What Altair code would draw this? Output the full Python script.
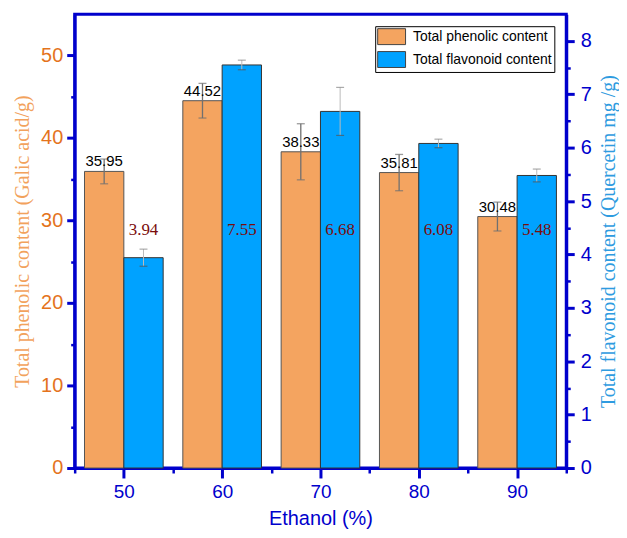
import altair as alt
import pandas as pd

# ---- data ----
ethanol = [50, 60, 70, 80, 90]
phenolic = [35.95, 44.52, 38.33, 35.81, 30.48]
phenolic_err = [1.5, 2.1, 3.4, 2.2, 1.75]
flavonoid = [3.94, 7.55, 6.68, 6.08, 5.48]
flavonoid_err = [0.16, 0.09, 0.45, 0.08, 0.12]
series_names = ["Total phenolic content", "Total flavonoid content"]
series_colors = ["#F4A460", "#00A2FF"]
x_ticks = [45, 50, 55, 60, 65, 70, 75, 80, 85, 90, 95]
left_ticks = [0, 5, 10, 15, 20, 25, 30, 35, 40, 45, 50]
right_ticks = [0, 0.5, 1, 1.5, 2, 2.5, 3, 3.5, 4, 4.5, 5, 5.5, 6, 6.5, 7, 7.5, 8]

df = pd.DataFrame({
    "ethanol": ethanol,
    "tpc": phenolic,
    "tpc_err": phenolic_err,
    "tfc": flavonoid,
    "tfc_err": flavonoid_err,
})

AXIS_BLUE = "#0000CC"
TICK_FONT = "Liberation Sans Narrow, Liberation Sans, Arial"
BAR_W = 4  # bar width in x-units

base = alt.Chart(df).transform_calculate(
    x_o0=f"datum.ethanol - {BAR_W}",
    x_oc=f"datum.ethanol - {BAR_W / 2}",
    x_b1=f"datum.ethanol + {BAR_W}",
    x_bc=f"datum.ethanol + {BAR_W / 2}",
    tpc_lo="datum.tpc - datum.tpc_err",
    tpc_hi="datum.tpc + datum.tpc_err",
    tfc_lo="datum.tfc - datum.tfc_err",
    tfc_hi="datum.tfc + datum.tfc_err",
    tpc_txt="format(datum.tpc, '.2f')",
    tfc_txt="format(datum.tfc, '.2f')",
    s_o="'Total phenolic content'",
    s_b="'Total flavonoid content'",
)

xscale = alt.Scale(domain=[45, 95], nice=False, zero=False)
xaxis = alt.Axis(
    title="Ethanol (%)",
    values=x_ticks,
    labelExpr="datum.value % 10 === 0 ? format(datum.value, 'd') : ''",
    tickSize={"condition": {"test": "datum.value % 10 === 0", "value": 10}, "value": 5},
    tickWidth={"condition": {"test": "datum.value % 10 === 0", "value": 3}, "value": 2.5},
    tickColor=AXIS_BLUE,
    domainColor=AXIS_BLUE,
    domainWidth=3,
    labelColor=AXIS_BLUE,
    labelFont=TICK_FONT,
    labelFontSize=19,
    labelPadding=5,
    titleFont="Liberation Sans, Arial",
    titleFontSize=20,
    titleFontWeight="normal",
    titleColor=AXIS_BLUE,
    titlePadding=7,
    grid=False,
)

def X(field):
    return alt.X(f"{field}:Q", scale=xscale, axis=xaxis)

lscale = alt.Scale(domain=[0, 55], nice=False, zero=True)
laxis = alt.Axis(
    title="Total phenolic content (Galic acid/g)",
    orient="left",
    values=left_ticks,
    labelExpr="datum.value % 10 === 0 ? format(datum.value, 'd') : ''",
    tickSize={"condition": {"test": "datum.value % 10 === 0", "value": 8}, "value": 4},
    tickWidth={"condition": {"test": "datum.value % 10 === 0", "value": 3}, "value": 2.5},
    tickColor=AXIS_BLUE,
    domainColor=AXIS_BLUE,
    domainWidth=3,
    labelColor="#E4731C",
    labelFont=TICK_FONT,
    labelFontSize=20,
    labelPadding=4,
    titleFont="Liberation Serif, Times New Roman",
    titleFontSize=20,
    titleFontWeight="normal",
    titleColor="#F2A25C",
    titlePadding=8,
    grid=False,
)

def YL(field):
    return alt.Y(f"{field}:Q", scale=lscale, axis=laxis)

rscale = alt.Scale(domain=[0, 8.5], nice=False, zero=True)
raxis = alt.Axis(
    title="Total flavonoid content (Quercetin mg /g)",
    orient="right",
    values=right_ticks,
    labelExpr="datum.value % 1 === 0 ? format(datum.value, 'd') : ''",
    tickSize={"condition": {"test": "datum.value % 1 === 0", "value": 8}, "value": 4},
    tickWidth={"condition": {"test": "datum.value % 1 === 0", "value": 3}, "value": 2.5},
    tickColor=AXIS_BLUE,
    domainColor=AXIS_BLUE,
    domainWidth=3,
    labelColor=AXIS_BLUE,
    labelFont=TICK_FONT,
    labelFontSize=20,
    labelPadding=6,
    titleFont="Liberation Serif, Times New Roman",
    titleFontSize=20,
    titleFontWeight="normal",
    titleColor="#2E9BE0",
    titleAngle=270,
    titleBaseline="top",
    titlePadding=7,
    grid=False,
)

def YR(field):
    return alt.Y(f"{field}:Q", scale=rscale, axis=raxis)

color = alt.Color(
    "series:N",
    scale=alt.Scale(domain=series_names, range=series_colors),
    legend=alt.Legend(
        title=None,
        orient="top-right",
        offset=12,
        symbolType="M-1.75,-1H1.75V1H-1.75Z",
        symbolSize=256,
        symbolOffset=6,
        symbolStrokeColor="#444",
        symbolStrokeWidth=1,
        symbolOpacity=1,
        labelFont="Liberation Sans, Arial",
        labelFontSize=14,
        labelColor="black",
        labelOffset=13,
        rowPadding=2,
        strokeColor="black",
        fillColor="white",
        padding=2,
    ),
)

# ---- left (phenolic) layers ----
o_bar = base.transform_calculate(series="datum.s_o").mark_bar(
    stroke="#555", strokeWidth=1
).encode(x=X("x_o0"), x2="ethanol:Q", y=YL("tpc"), y2=alt.datum(0), color=color)

o_err = base.mark_rule(color="#707070", strokeWidth=1.3).encode(
    x=X("x_oc"), y=YL("tpc_lo"), y2="tpc_hi:Q"
)
o_cap_lo = base.mark_tick(color="#707070", size=8, thickness=1.3, orient="horizontal").encode(
    x=X("x_oc"), y=YL("tpc_lo")
)
o_cap_hi = base.mark_tick(color="#707070", size=8, thickness=1.3, orient="horizontal").encode(
    x=X("x_oc"), y=YL("tpc_hi")
)
o_txt = base.mark_text(
    font="Liberation Sans, Arial", fontSize=15, color="black", baseline="bottom", dy=-2
).encode(x=X("x_oc"), y=YL("tpc"), text="tpc_txt:N")

left = alt.layer(o_bar, o_err, o_cap_lo, o_cap_hi, o_txt)

# ---- right (flavonoid) layers ----
b_bar = base.transform_calculate(series="datum.s_b").mark_bar(
    stroke="#333", strokeWidth=1
).encode(x=X("ethanol"), x2="x_b1:Q", y=YR("tfc"), y2=alt.datum(0), color=color)

b_err = base.mark_rule(color="#bbbbbb", strokeWidth=1).encode(
    x=X("x_bc"), y=YR("tfc_lo"), y2="tfc_hi:Q"
)
b_cap_lo = base.mark_tick(color="#555", size=8, thickness=1.2, orient="horizontal").encode(
    x=X("x_bc"), y=YR("tfc_lo")
)
b_cap_hi = base.mark_tick(color="#888", size=8, thickness=1.2, orient="horizontal").encode(
    x=X("x_bc"), y=YR("tfc_hi")
)
b_txt = base.mark_text(
    font="Liberation Serif, Times New Roman", fontSize=17, color="#7A0C0C", baseline="middle"
).encode(x=X("x_bc"), y=alt.value(217), text="tfc_txt:N")

right = alt.layer(b_bar, b_err, b_cap_lo, b_cap_hi, b_txt)

chart = (
    alt.layer(left, right)
    .resolve_scale(y="independent")
    .properties(
        width=494,
        height=456,
        padding={"left": 4, "top": 5, "right": 0, "bottom": 0},
        background="white",
    )
    .configure_view(stroke=AXIS_BLUE, strokeWidth=3)
)

chart.save("out.html", embed_options={"renderer": "svg", "actions": False})
